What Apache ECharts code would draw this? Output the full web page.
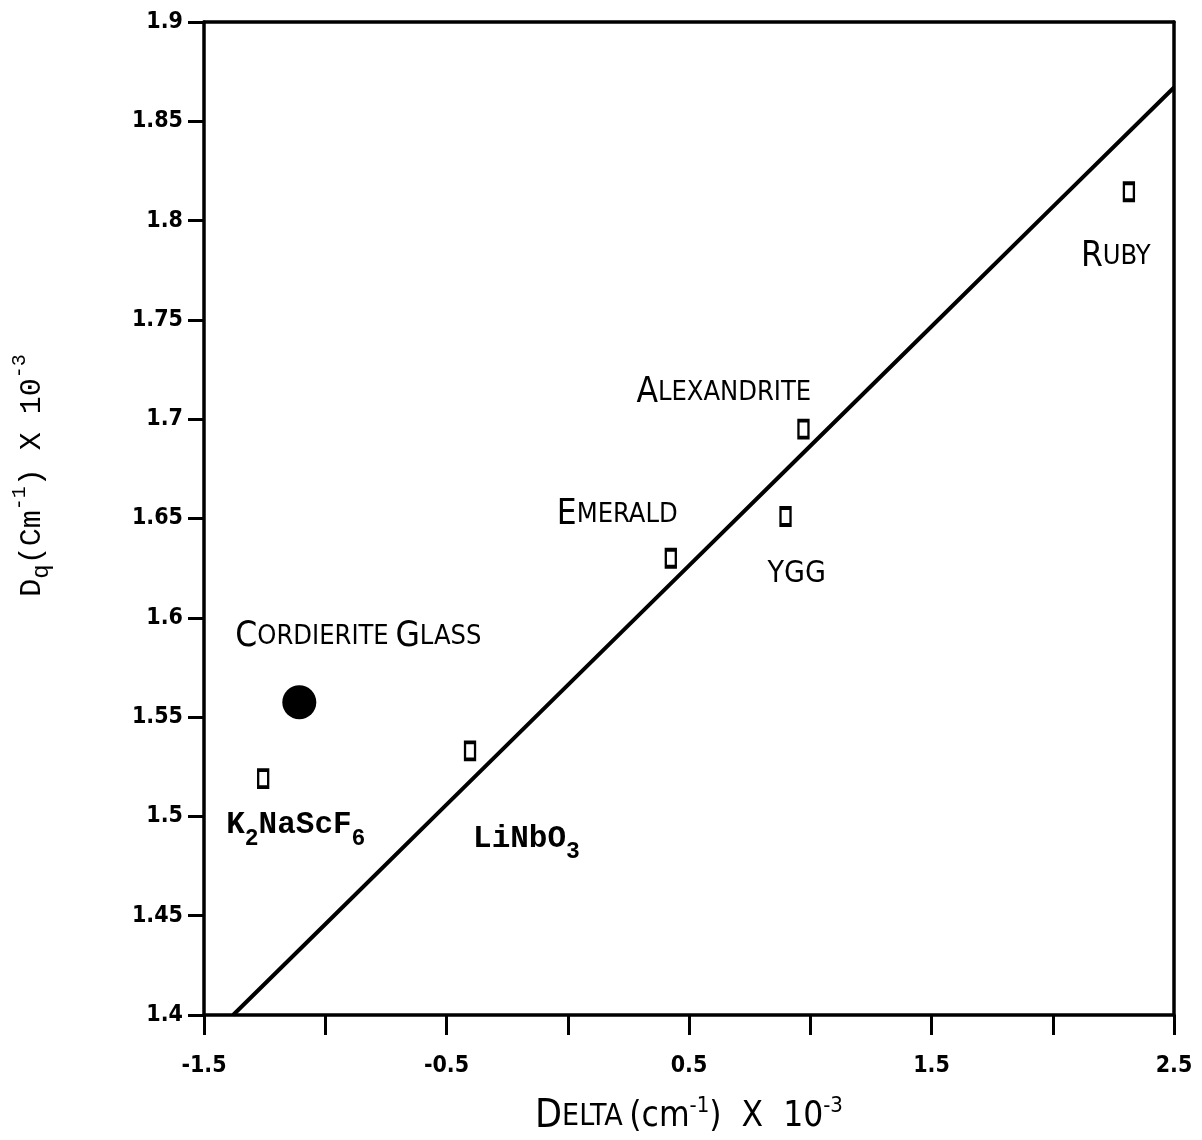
<!DOCTYPE html>
<html>
<head>
<meta charset="utf-8">
<script src="https://cdn.jsdelivr.net/npm/echarts@6/dist/echarts.min.js"></script>
<style>
html,body{margin:0;padding:0;background:#fff;}
#chart{width:1202px;height:1140px;}
</style>
</head>
<body>
<div id="chart"></div>
<script>
// ---- data ----
const materials = ['K2NaScF6', 'LiNbO3', 'Emerald', 'YGG', 'Alexandrite', 'Ruby'];
const deltaValues = [-1.256, -0.403, 0.425, 0.898, 0.972, 2.314];
const dqValues = [1.519, 1.533, 1.630, 1.651, 1.695, 1.8145];
const glassDelta = [-1.107];
const glassDq = [1.5575];
const fitDelta = [-1.38, -1.0, -0.5, 0, 0.5, 1.0, 1.5, 2.0, 2.5];
const fitDq = [1.4, 1.4457, 1.5059, 1.5661, 1.6263, 1.6865, 1.7467, 1.8069, 1.867];
const xTickLabels = ['-1.5', '-0.5', '0.5', '1.5', '2.5'];

const condensed = "'DejaVu Sans Condensed','Liberation Sans Narrow',sans-serif";
const mono = "'Liberation Mono','DejaVu Sans Mono',monospace";

const capsRich = {
  big: {fontFamily: condensed, fontSize: 35, color: '#000', lineHeight: 40},
  sm: {fontFamily: condensed, fontSize: 27, color: '#000', lineHeight: 40},
  y: {fontFamily: condensed, fontSize: 30, color: '#000', lineHeight: 40}
};
const monoRich = {
  m: {fontFamily: mono, fontSize: 31, fontWeight: 'bold', color: '#000', lineHeight: 50},
  sub: {fontFamily: mono, fontSize: 23, fontWeight: 'bold', color: '#000', lineHeight: 14, verticalAlign: 'bottom'}
};

const labelText = {
  'K2NaScF6': '{m|K}{sub|2}{m|NaScF}{sub|6}',
  'LiNbO3': '{m|LiNbO}{sub|3}',
  'Emerald': '{big|E}{sm|MERALD}',
  'YGG': '{y|YGG}',
  'Alexandrite': '{big|A}{sm|LEXANDRITE}',
  'Ruby': '{big|R}{sm|UBY}'
};
const labelOffset = {
  'K2NaScF6': [-37, 47],
  'LiNbO3': [3, 88],
  'Emerald': [-114, -43],
  'YGG': [-18, 58],
  'Alexandrite': [-167, -36],
  'Ruby': [-48, 65]
};

const squareData = materials.map((name, i) => {
  const isMono = (name === 'K2NaScF6' || name === 'LiNbO3');
  return {
    name: name,
    value: [deltaValues[i], dqValues[i]],
    label: {
      show: true,
      position: 'inside',
      align: 'left',
      verticalAlign: 'middle',
      offset: labelOffset[name],
      formatter: labelText[name],
      rich: isMono ? monoRich : capsRich
    }
  };
});

const glassData = glassDelta.map((d, i) => ({
  name: 'Cordierite Glass',
  value: [d, glassDq[i]],
  label: {
    show: true,
    position: 'inside',
    align: 'left',
    verticalAlign: 'middle',
    offset: [-64, -65],
    formatter: '{big|C}{sm|ORDIERITE}  {big|G}{sm|LASS}',
    rich: capsRich
  }
}));

const fitData = fitDelta.map((d, i) => [d, fitDq[i]]);

const chart = echarts.init(document.getElementById('chart'), null, {renderer: 'canvas'});
chart.setOption({
  animation: false,
  backgroundColor: '#fff',
  grid: {left: 204, right: 28, top: 22, bottom: 125, containLabel: false, outerBoundsMode: 'none'},
  xAxis: [{
    type: 'value', min: -1.5, max: 2.5, interval: 0.5,
    position: 'bottom',
    name: '{big|D}{sm|ELTA}  {n|(cm}{sup|-1}{n|)  X  10}{sup|-3}',
    nameLocation: 'middle', nameGap: 80,
    nameTextStyle: {
      rich: {
        big: {fontFamily: condensed, fontSize: 39, color: '#000', lineHeight: 44},
        sm: {fontFamily: condensed, fontSize: 30, color: '#000', lineHeight: 44},
        n: {fontFamily: condensed, fontSize: 35, color: '#000', lineHeight: 44},
        sup: {fontFamily: condensed, fontSize: 22, color: '#000', lineHeight: 22, verticalAlign: 'top'}
      }
    },
    axisLine: {show: true, onZero: false, lineStyle: {color: '#000', width: 3.5}},
    axisTick: {show: true, inside: false, length: 20, lineStyle: {color: '#000', width: 3}},
    axisLabel: {
      margin: 40, color: '#000', fontFamily: condensed, fontSize: 23, fontWeight: 'bold',
      formatter: v => {
        const s = (Math.round(v * 10) / 10).toString();
        return xTickLabels.indexOf(s) >= 0 ? s : '';
      }
    },
    splitLine: {show: false}
  }, {
    type: 'value', min: -1.5, max: 2.5, position: 'top',
    axisLine: {show: true, onZero: false, lineStyle: {color: '#000', width: 3.5}},
    axisTick: {show: false}, axisLabel: {show: false}, splitLine: {show: false}
  }],
  yAxis: [{
    type: 'value', min: 1.4, max: 1.9, interval: 0.05,
    position: 'left',
    name: '{n|D}{sub|q}{n|(Cm}{sup|-1}{n|) X 10}{sup|-3}',
    nameLocation: 'middle', nameGap: 150, nameRotate: 90,
    nameTextStyle: {
      padding: [0, 0, 0, 86],
      rich: {
        n: {fontFamily: mono, fontSize: 30, color: '#000', lineHeight: 44},
        sub: {fontFamily: mono, fontSize: 24, color: '#000', lineHeight: 24, verticalAlign: 'bottom'},
        sup: {fontFamily: mono, fontSize: 20, color: '#000', lineHeight: 20, verticalAlign: 'top'}
      }
    },
    axisLine: {show: true, onZero: false, lineStyle: {color: '#000', width: 3.5}},
    axisTick: {show: true, inside: false, length: 16, lineStyle: {color: '#000', width: 3}},
    axisLabel: {
      margin: 21, color: '#000', fontFamily: condensed, fontSize: 23, fontWeight: 'bold',
      formatter: v => (Math.round(v * 100) / 100).toString()
    },
    splitLine: {show: false}
  }, {
    type: 'value', min: 1.4, max: 1.9, position: 'right',
    axisLine: {show: true, onZero: false, lineStyle: {color: '#000', width: 3.5}},
    axisTick: {show: false}, axisLabel: {show: false}, splitLine: {show: false}
  }],
  series: [{
    type: 'line',
    data: fitData,
    showSymbol: false,
    lineStyle: {color: '#000', width: 4},
    z: 2
  }, {
    type: 'scatter',
    data: squareData,
    symbol: 'rect',
    symbolSize: [10, 17],
    itemStyle: {color: '#fff', borderColor: '#000', borderWidth: 3, opacity: 1},
    z: 3
  }, {
    type: 'scatter',
    data: glassData,
    symbol: 'circle',
    symbolSize: 34,
    itemStyle: {color: '#000', opacity: 1},
    z: 3
  }]
});
</script>
</body>
</html>
